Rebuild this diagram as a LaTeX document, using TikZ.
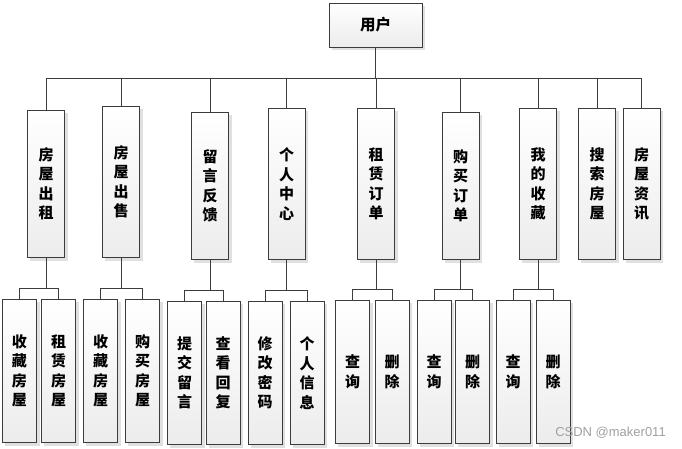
\documentclass[tikz,border=0pt]{standalone}
\usepackage{fontspec}
\newfontfamily\cjk{Noto Sans CJK SC}
\setsansfont{Liberation Sans}
\usetikzlibrary{calc,backgrounds}
\definecolor{boxline}{HTML}{3C3C3C}
\definecolor{boxshade}{HTML}{ECECEC}
\definecolor{shadowgray}{HTML}{E0E0E0}
\definecolor{markgray}{HTML}{A0A0A0}

\begin{document}
\begin{tikzpicture}[x=1pt, y=-1pt,
    box/.style={draw=boxline, line width=0.9pt, top color=white, bottom color=boxshade,
      inner sep=0pt, align=center, font=\cjk\bfseries\fontsize{15}{19.5}\selectfont},
    menu/.style={box, anchor=north, minimum width=37pt},
    leaf/.style={box, anchor=north, minimum width=34pt, minimum height=143pt},
    link/.style={draw=boxline, line width=0.8pt},
    shadow/.style={fill=shadowgray, draw=none}]

  \useasboundingbox (0,0) rectangle (682,449);

  % root
  \node[box, minimum width=93pt, minimum height=44pt, font=\cjk\bfseries\fontsize{15.5}{18}\selectfont]
    (user) at (375.5,25) {用户};

  % first level: name/x/top/height/text
  \foreach \n/\x/\y/\h/\t in {
      a1/46/110/147/房\\屋\\出\\租,
      a2/121/106/151/房\\屋\\出\\售,
      a3/210/112/147/留\\言\\反\\馈,
      a4/286.5/108/151/个\\人\\中\\心,
      a5/376/108/151/租\\赁\\订\\单,
      a6/460.5/112/147/购\\买\\订\\单,
      a7/538/108/151/我\\的\\收\\藏,
      a8/597/108/151/搜\\索\\房\\屋,
      a9/641.5/108/151/房\\屋\\资\\讯} {
    \node[menu, minimum height=\h pt] (\n) at (\x,\y) {\t};
  }

  % second level: name/x/top/text
  \foreach \n/\x/\y/\t in {
      b1/19.5/299/收\\藏\\房\\屋,
      b2/58.5/299/租\\赁\\房\\屋,
      b3/100.5/299/收\\藏\\房\\屋,
      b4/142.5/299/购\\买\\房\\屋,
      b5/184.5/301/提\\交\\留\\言,
      b6/223/301/查\\看\\回\\复,
      b7/265/301/修\\改\\密\\码,
      b8/307/301/个\\人\\信\\息,
      b9/352.5/300/查\\询,
      b10/392/300/删\\除,
      b11/434/300/查\\询,
      b12/472.5/300/删\\除,
      b13/513/300/查\\询,
      b14/553/300/删\\除} {
    \node[leaf] (\n) at (\x,\y) {\t};
  }

  % shadows behind the boxes
  \begin{pgfonlayer}{background}
    \foreach \n in {user,a1,a2,a3,a4,a5,a6,a7,a8,a9,b1,b2,b3,b4,b5,b6,b7,b8,b9,b10,b11,b12,b13,b14}
      \fill[shadow] ($(\n.north west)+(3,3)$) rectangle ($(\n.south east)+(3,3)$);
  \end{pgfonlayer}

  % bus under the root
  \coordinate (bus) at (0,78);
  \draw[link] (user.south) -- (user.south |- bus);
  \draw[link] (a1.north) -- (a1.north |- bus) -- (a9.north |- bus) -- (a9.north);
  \foreach \n in {a2,a3,a4,a5,a6,a7,a8}
    \draw[link] (\n.north) -- (\n.north |- bus);

  % branches to the second level
  \foreach \p/\l/\r in {a1/b1/b2, a2/b3/b4, a3/b5/b6, a4/b7/b8,
                        a5/b9/b10, a6/b11/b12, a7/b13/b14} {
    \draw[link] (\l.north) -- ++(0,-11) coordinate (j\p) -| (\r.north);
    \draw[link] (\p.south) -- (\p.south |- j\p);
  }

  \node[font=\sffamily\fontsize{13}{15}\selectfont, text=markgray] (mark) at (610.5,433) {CSDN @maker011};
\end{tikzpicture}
\end{document}
